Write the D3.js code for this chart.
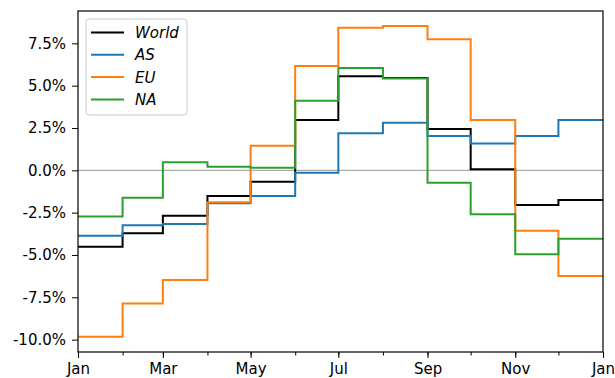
<!DOCTYPE html>
<html>
<head>
<meta charset="utf-8">
<script src="https://cdn.jsdelivr.net/npm/d3@7"></script>
<style>
	body { margin: 0; background: #fff; }
	svg { display: block; font-family: "DejaVu Sans", sans-serif; }
</style>
</head>
<body>
<div id="chart"></div>
<script>
// monthly growth rates, one value per month (Jan..Dec)
const months = ["2019-01-01", "2019-02-01", "2019-03-01", "2019-04-01", "2019-05-01", "2019-06-01",
	"2019-07-01", "2019-08-01", "2019-09-01", "2019-10-01", "2019-11-01", "2019-12-01"];
const endDate = "2020-01-01";
const seriesNames = ["World", "AS", "EU", "NA"];
const seriesColors = ["#000000", "#1f77b4", "#ff7f0e", "#2ca02c"];
const world = [-4.51, -3.72, -2.68, -1.52, -0.67, 2.97, 5.55, 5.45, 2.44, 0.06, -2.05, -1.75];
const as = [-3.86, -3.25, -3.17, -1.95, -1.52, -0.14, 2.19, 2.81, 2.03, 1.59, 2.03, 2.97];
const eu = [-9.83, -7.86, -6.48, -1.89, 1.45, 6.16, 8.42, 8.52, 7.74, 2.97, -3.57, -6.24];
const na = [-2.72, -1.62, 0.47, 0.21, 0.15, 4.11, 6.04, 5.43, -0.73, -2.60, -4.96, -4.04];
const yTicks = [-10, -7.5, -5, -2.5, 0, 2.5, 5, 7.5];

const width = 615, height = 378;
const margin = { top: 11, right: 12, bottom: 26, left: 78 };
const allSeries = [world, as, eu, na];

const svg = d3.select("#chart").append("svg").attr("width", width).attr("height", height);

const parse = d3.timeParse("%Y-%m-%d");
const dates = months.map(parse);
const x = d3.scaleTime().domain([dates[0], parse(endDate)]).range([margin.left, width - margin.right]);
const y = d3.scaleLinear().domain([-10.73, 9.41]).range([height - margin.bottom, margin.top]);

// plain hyphen for negatives, like the original
const pct = d3.formatLocale({ decimal: ".", thousands: ",", grouping: [3], currency: ["", ""], minus: "-" }).format(".1f");

// zero line
svg.append("line")
	.attr("x1", margin.left).attr("x2", width - margin.right)
	.attr("y1", y(0)).attr("y2", y(0))
	.attr("stroke", "#999").attr("stroke-width", 1);

// step lines
const line = d3.line()
	.x(d => x(d.date))
	.y(d => y(d.value))
	.curve(d3.curveStepAfter);

allSeries.forEach((vals, i) => {
	let pts = vals.map((v, j) => ({ date: dates[j], value: v }));
	pts.push({ date: parse(endDate), value: vals[vals.length - 1] });
	svg.append("path")
		.datum(pts)
		.attr("fill", "none")
		.attr("stroke", seriesColors[i])
		.attr("stroke-width", 2)
		.attr("d", line);
});

// axes
const xAxis = d3.axisBottom(x).ticks(d3.timeMonth.every(2)).tickFormat(d3.timeFormat("%b")).tickSize(6).tickPadding(5);
const gx = svg.append("g").attr("transform", `translate(0,${height - margin.bottom})`).call(xAxis);
const xMinor = d3.axisBottom(x).ticks(d3.timeMonth.every(1)).tickFormat("").tickSize(3.5);
const gxm = svg.append("g").attr("transform", `translate(0,${height - margin.bottom})`).call(xMinor);

const yAxis = d3.axisLeft(y).tickValues(yTicks).tickFormat(d => pct(d) + "%").tickSize(6).tickPadding(6);
const gy = svg.append("g").attr("transform", `translate(${margin.left},0)`).call(yAxis);

[gx, gy, gxm].forEach(g => {
	g.selectAll("text").attr("font-size", "15px").attr("font-family", "DejaVu Sans").attr("fill", "#000");
	g.selectAll("line").attr("stroke", "#000").attr("stroke-width", 1);
	g.select(".domain").remove();
});

// frame
svg.append("rect")
	.attr("x", margin.left).attr("y", margin.top)
	.attr("width", width - margin.right - margin.left)
	.attr("height", height - margin.bottom - margin.top)
	.attr("fill", "none").attr("stroke", "#000").attr("stroke-width", 1.2);

// legend
const legend = svg.append("g");
legend.append("rect")
	.attr("x", 86).attr("y", 19).attr("width", 101).attr("height", 96)
	.attr("rx", 3).attr("fill", "#fff").attr("fill-opacity", 0.8)
	.attr("stroke", "#ccc").attr("stroke-width", 1);
seriesNames.forEach((name, i) => {
	const ly = 32.5 + i * 22.3;
	legend.append("line")
		.attr("x1", 91).attr("x2", 124).attr("y1", ly).attr("y2", ly)
		.attr("stroke", seriesColors[i]).attr("stroke-width", 2);
	legend.append("text")
		.attr("x", 135).attr("y", ly).attr("dy", "0.36em")
		.attr("font-size", "15px").attr("font-style", "italic")
		.text(name);
});
</script>
</body>
</html>
